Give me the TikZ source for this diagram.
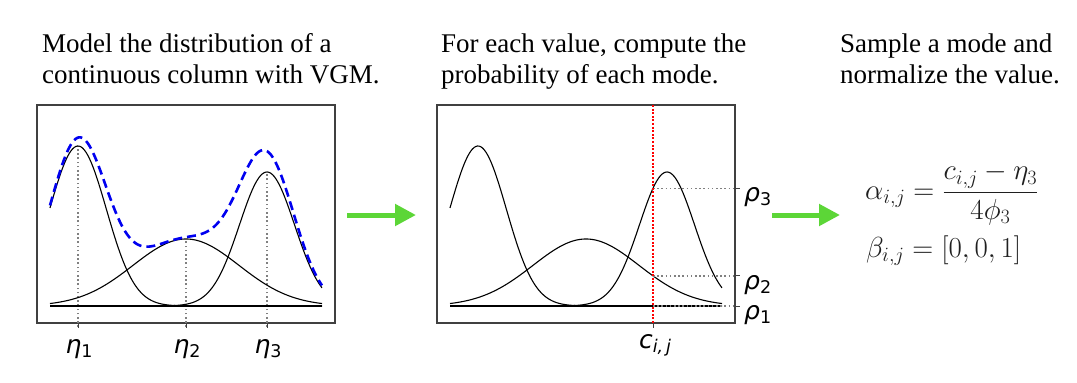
\RequirePackage{fix-cm}
\documentclass[tikz,border=0pt]{standalone}
\usepackage{amsmath}
\usepackage{fontspec}
\setmainfont{Liberation Serif}
\newfontfamily\dvs{DejaVu Sans}
\usetikzlibrary{arrows.meta}
\definecolor{arrgreen}{RGB}{92,214,55}
\definecolor{vgmblue}{RGB}{0,0,240}
\newcommand\mplsym[2]{{\dvs\fontsize{25}{25}\selectfont\itshape #1}{\dvs\fontsize{17.5}{17.5}\selectfont\raisebox{-4pt}{#2}}}
\tikzset{
  panel/.style={draw=black!75, line width=1.1pt, minimum width=298pt, minimum height=218pt, inner sep=0pt, outer sep=0pt},
  curve/.style={line width=1.1pt, black, samples=160},
  sumcurve/.style={line width=2.6pt, vgmblue, dash pattern=on 9pt off 5pt, samples=160},
  guide/.style={gray, line width=1.6pt, dash pattern=on 1.6pt off 2.6pt},
  redguide/.style={red, line width=1.9pt, dash pattern=on 1.9pt off 1.7pt},
  tickmark/.style={black!75, line width=1pt},
  title/.style={font=\fontsize{27}{31}\selectfont, align=left, anchor=base west, inner sep=0pt},
  ticklabel/.style={inner sep=0pt},
  greenarrow/.style={arrgreen, line width=5pt, -{Triangle[length=21pt,width=21pt]}},
  formula/.style={font=\fontsize{29}{34}\selectfont, text=black!88, inner sep=0pt, anchor=base west},
  declare function={
    ga(\x)=160*exp(max(-30,-0.5*((\x-78)/28.3)^2));
    gb(\x)=67*exp(max(-30,-0.5*((\x-186)/53)^2));
    gc(\x)=134*exp(max(-30,-0.5*((\x-267)/27.5)^2));
  }
}
\begin{document}
\begin{tikzpicture}[x=1pt,y=-1pt]
\useasboundingbox (0,0) rectangle (1077,383);

% titles
\node[title] (t1a) at (42,52) {Model the distribution of a};
\node[title] (t1b) at (42,83) {continuous column with VGM.};
\node[title] (t2a) at (441,52) {For each value, compute the};
\node[title] (t2b) at (441,83) {probability of each mode.};
\node[title] (t3a) at (840,52) {Sample a mode and};
\node[title] (t3b) at (840,83) {normalize the value.};

% panels
\node[panel] (p1) at (186,214) {};
\node[panel] (p2) at (586,214) {};

% ---- panel 1 ----
\draw[guide] (78,327) -- (78,146);
\draw[guide] (186,327) -- (186,239);
\draw[guide] (267,327) -- (267,172);
\draw[curve] (50,306) -- (322,306);
\draw[curve] plot[domain=50:322] (\x,{306-ga(\x)});
\draw[curve] plot[domain=50:322] (\x,{306-gb(\x)});
\draw[curve] plot[domain=50:322] (\x,{306-gc(\x)});
\draw[sumcurve] plot[domain=50:322] (\x,{306-ga(\x)-gb(\x)-gc(\x)});
\foreach \t in {78,186,267} \draw[tickmark] (\t,323) -- (\t,327.5);
\node[ticklabel, anchor=base] (e1) at (79,353) {\mplsym{η}{1}};
\node[ticklabel, anchor=base] (e2) at (187,353) {\mplsym{η}{2}};
\node[ticklabel, anchor=base] (e3) at (268,353) {\mplsym{η}{3}};

% ---- panel 2 ----
\begin{scope}[xshift=400pt]
\draw[curve] (50,306) -- (322,306);
\draw[curve] plot[domain=50:322] (\x,{306-ga(\x)});
\draw[curve] plot[domain=50:322] (\x,{306-gb(\x)});
\draw[curve] plot[domain=50:322] (\x,{306-gc(\x)});
\end{scope}
\coordinate (r3) at (653,188.4);
\coordinate (r2) at (653,275.9);
\coordinate (r1) at (653,306);
\draw[guide] (r3) -- (735,188.4);
\draw[guide] (r2) -- (735,275.9);
\draw[guide] (r1) -- (735,306);
\draw[redguide] (653,105) -- (653,323);
\draw[tickmark] (653,323) -- (653,327.5);
\foreach \t in {188.4,275.9,306} \draw[tickmark] (735,\t) -- (739.5,\t);
\node[ticklabel, anchor=base west] (rho3) at (744,201.5) {\mplsym{ρ}{3}};
\node[ticklabel, anchor=base west] (rho2) at (744,289) {\mplsym{ρ}{2}};
\node[ticklabel, anchor=base west] (rho1) at (744,319) {\mplsym{ρ}{1}};
\node[ticklabel, anchor=base] (cij) at (655,348) {\mplsym{c}{\itshape i,\,j}};

% ---- formula ----
\node[formula] (f1) at (865,199.5) {$\displaystyle \alpha_{i,j}=\frac{c_{i,j}-\eta_3}{4\phi_3}$};
\node[formula] (f2) at (866,257) {$\displaystyle \beta_{i,j}=[0,0,1]$};

% arrows
\coordinate (a1s) at (347,215);
\coordinate (a1e) at (416,215);
\coordinate (a2s) at (772,215);
\coordinate (a2e) at (840,215);
\draw[greenarrow] (a1s) -- (a1e);
\draw[greenarrow] (a2s) -- (a2e);
\end{tikzpicture}
\end{document}
